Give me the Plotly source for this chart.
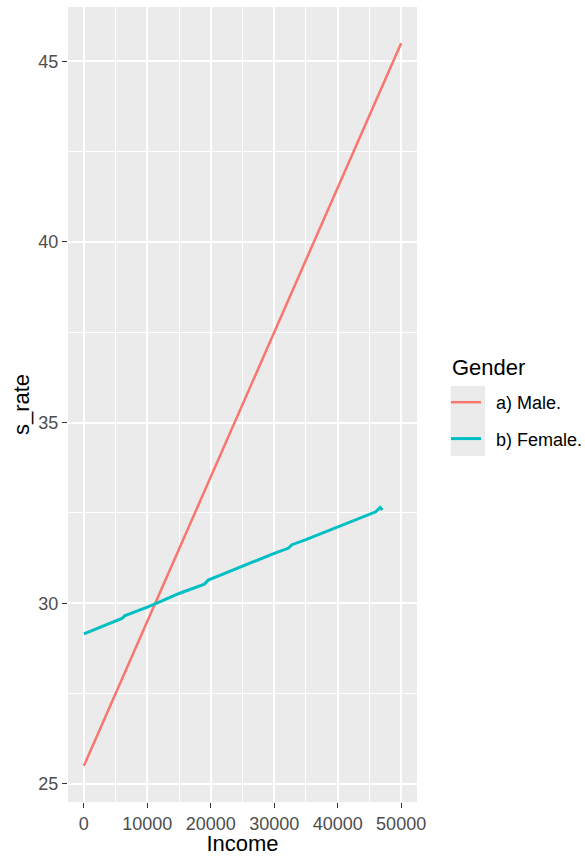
import plotly.graph_objects as go

# Data
male_income = [0, 2500, 5000, 7500, 10000, 12500, 15000, 17500, 20000, 22500, 25000,
               27500, 30000, 32500, 35000, 37500, 40000, 42500, 45000, 47500, 50000]
male_rate = [25.5, 26.5, 27.5, 28.5, 29.5, 30.5, 31.5, 32.5, 33.5, 34.5, 35.5,
             36.5, 37.5, 38.5, 39.5, 40.5, 41.5, 42.5, 43.5, 44.5, 45.5]

female_income = [0, 2500, 5000, 6000, 6500, 10000, 12500, 15000, 19000, 19600, 22500,
                 25000, 30000, 32200, 32800, 35000, 40000, 42500, 45000, 46000, 46700, 47050]
female_rate = [29.15, 29.33, 29.52, 29.58, 29.66, 29.89, 30.08, 30.27, 30.53, 30.64, 30.85,
               31.03, 31.38, 31.52, 31.62, 31.76, 32.12, 32.3, 32.46, 32.53, 32.65, 32.58]

x_ticks = [0, 10000, 20000, 30000, 40000, 50000]
x_tick_labels = ["0", "10000", "20000", "30000", "40000", "50000"]
y_ticks = [25, 30, 35, 40, 45]

L, R, T, B = 68, 168, 7, 54
W, H = 585, 856
PW, PH = W - L - R, H - T - B

fig = go.Figure()
fig.add_trace(go.Scatter(x=male_income, y=male_rate, mode="lines",
                         name="\u00a0\u00a0a) Male.", legendgroup="m",
                         line=dict(color="#F8766D", width=2.5)))
fig.add_trace(go.Scatter(x=female_income, y=female_rate, mode="lines",
                         name="\u00a0\u00a0b) Female.", legendgroup="f",
                         line=dict(color="#00BFC4", width=3)))

font = "Liberation Sans, Arial, sans-serif"
axis_common = dict(
    showgrid=True, gridcolor="white", gridwidth=1.6,
    zeroline=False, showline=False, automargin=False,
    ticks="outside", ticklen=5, tickwidth=1.3, tickcolor="#333333",
    tickfont=dict(family=font, size=18, color="#4D4D4D"),
)

fig.update_layout(
    width=W, height=H,
    margin=dict(l=L, r=R, t=T, b=B, autoexpand=False),
    paper_bgcolor="white", plot_bgcolor="#EBEBEB",
    font=dict(family=font, color="black"),
    xaxis=dict(range=[-2500, 52500], tickvals=x_ticks, ticktext=x_tick_labels,
               title=dict(text="Income", font=dict(size=22, family=font, color="black"), standoff=8),
               minor=dict(showgrid=True, gridcolor="white", gridwidth=0.8,
                          tickvals=[5000, 15000, 25000, 35000, 45000], ticks=""),
               **axis_common),
    yaxis=dict(range=[24.5, 46.5], tickvals=y_ticks,
               title=dict(text="s_rate", font=dict(size=22, family=font, color="black"), standoff=2),
               minor=dict(showgrid=True, gridcolor="white", gridwidth=0.8,
                          tickvals=[27.5, 32.5, 37.5, 42.5], ticks=""),
               **axis_common),
    legend=dict(x=(446 - L) / PW, xanchor="left", y=(H - B - 384) / PH, yanchor="top",
                bgcolor="rgba(0,0,0,0)", itemwidth=30, tracegroupgap=10,
                font=dict(size=18, family=font, color="black")),
    showlegend=True,
)

fig.add_annotation(text="Gender", xref="paper", yref="paper",
                   x=(450 - L) / PW, xanchor="left", y=(H - B - 367) / PH, yanchor="middle",
                   showarrow=False, font=dict(size=22, family=font, color="black"))

fig.add_shape(type="rect", xref="paper", yref="paper",
              x0=(450.7 - L) / PW, x1=(485 - L) / PW,
              y0=(H - B - 456) / PH, y1=(H - B - 386) / PH,
              fillcolor="#EBEBEB", line=dict(width=0), layer="below")

fig.write_html("out.html", config={"displayModeBar": False},
               post_script="document.body.style.margin='0';document.body.style.overflow='hidden';")
